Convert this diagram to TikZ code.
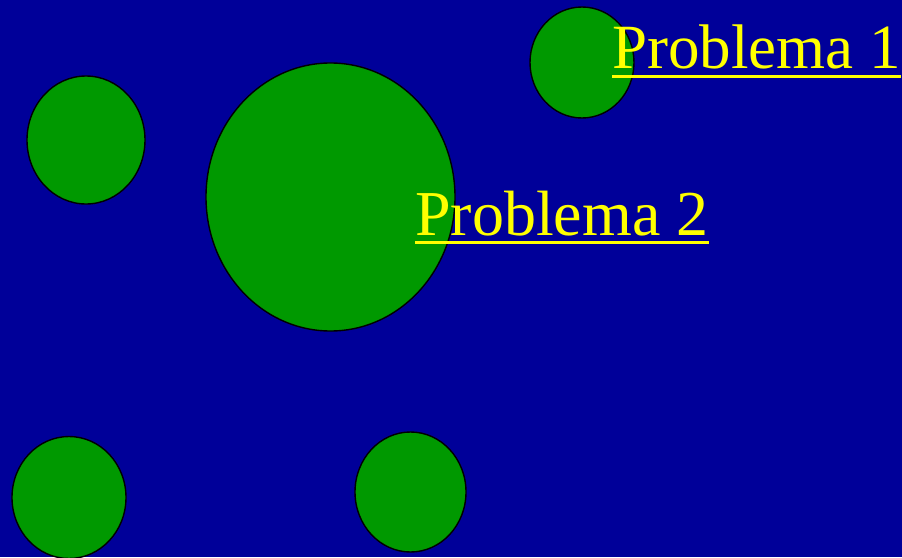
\documentclass[tikz,border=0pt]{standalone}
\usepackage{fontspec}
\setmainfont{Liberation Serif}
\usetikzlibrary{shapes.geometric}
\definecolor{bgblue}{HTML}{000099}
\definecolor{blobgreen}{HTML}{009900}
\definecolor{txtyellow}{HTML}{FFFF00}
\tikzset{
  blob/.style={ellipse, draw=black, line width=1.4pt, fill=blobgreen, inner sep=0pt},
  lbl/.style={anchor=base west, inner sep=0pt, text=txtyellow, font=\fontsize{64}{70}\selectfont},
  uline/.style={draw=txtyellow, line width=3pt}
}
\begin{document}
\begin{tikzpicture}[x=1pt,y=-1pt]
\useasboundingbox (0,0) rectangle (902,557);
\clip (0,0) rectangle (902,557);
\fill[bgblue] (0,0) rectangle (902,557);
\node[blob, minimum width=104pt, minimum height=111pt] (c1) at (582,62.5) {};
\node[blob, minimum width=118pt, minimum height=128pt] (c2) at (86,140) {};
\node[blob, minimum width=249pt, minimum height=268pt] (c3) at (330.5,197) {};
\node[blob, minimum width=114pt, minimum height=122pt] (c4) at (69,497.5) {};
\node[blob, minimum width=111pt, minimum height=120pt] (c5) at (410.5,492) {};
\node[lbl, font=\fontsize{63}{70}\selectfont] (p1) at (612,68) {Problema 1};
\node[lbl] (p2) at (415,235) {Problema 2};
\draw[uline] ([yshift=-8pt]p1.base west) -- ([yshift=-8pt]p1.base east);
\draw[uline] ([yshift=-7.5pt]p2.base west) -- ([yshift=-7.5pt]p2.base east);
\end{tikzpicture}
\end{document}
